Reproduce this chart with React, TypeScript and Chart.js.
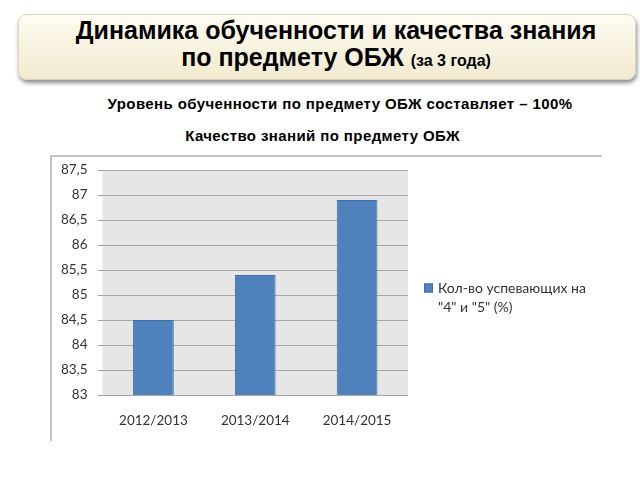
import { useEffect, useRef } from "react"
import { Chart, registerables } from "chart.js"

Chart.register(...registerables)

const categories = ["2012/2013", "2013/2014", "2014/2015"]
const qualityValues = [84.5, 85.4, 86.9]
const seriesLabel = 'Кол-во успевающих на "4" и "5" (%)'
const legendLines = ["Кол-во успевающих на", '"4" и "5" (%)']
const yMin = 83
const yMax = 87.5
const yStep = 0.5

const BAR_COLOR = "#4f81bd"
const TEXT_COLOR = "#333333"
const FONT = "Lato, 'Open Sans', sans-serif"

const plotBackground = {
  id: "plotBackground",
  beforeDraw(chart: Chart) {
    const { ctx, chartArea } = chart
    ctx.save()
    ctx.fillStyle = "#e6e6e6"
    ctx.fillRect(chartArea.left, chartArea.top, chartArea.right - chartArea.left, chartArea.bottom - chartArea.top)
    ctx.restore()
  },
}

// legend sits to the right of the plot, wrapped on two lines
const sideLegend = {
  id: "sideLegend",
  afterDraw(chart: Chart) {
    const { ctx, chartArea } = chart
    const ds = chart.data.datasets[0]
    const x = chartArea.right + 16
    const y = chartArea.top + 118
    ctx.save()
    ctx.fillStyle = ds.backgroundColor as string
    ctx.strokeStyle = "#3f6fa8"
    ctx.lineWidth = 1
    ctx.fillRect(x, y - 4.5, 9, 9)
    ctx.strokeRect(x + 0.5, y - 4, 8, 8)
    ctx.fillStyle = TEXT_COLOR
    ctx.font = `14px ${FONT}`
    ctx.textBaseline = "middle"
    legendLines.forEach((line, i) => {
      ctx.fillText(line, x + 14, y + i * 19)
    })
    ctx.restore()
  },
}

function QualityChart() {
  const chartRef = useRef<HTMLCanvasElement>(null)
  const chartInstance = useRef<Chart | null>(null)

  useEffect(() => {
    if (!chartRef.current) return
    const ctx = chartRef.current.getContext("2d")
    if (!ctx) return
    if (chartInstance.current) chartInstance.current.destroy()

    chartInstance.current = new Chart(ctx, {
      type: "bar",
      data: {
        labels: categories,
        datasets: [
          {
            label: seriesLabel,
            data: qualityValues,
            backgroundColor: BAR_COLOR,
            borderColor: "#3f6fa8",
            borderWidth: 1,
            barPercentage: 0.4,
            categoryPercentage: 1,
          },
        ],
      },
      options: {
        responsive: false,
        maintainAspectRatio: false,
        animation: false,
        layout: {
          padding: { left: 0, right: 232, top: 14, bottom: 11 },
        },
        scales: {
          y: {
            min: yMin,
            max: yMax,
            border: { display: false },
            grid: { color: "#a6a6a6", drawTicks: true, tickLength: 5 },
            ticks: {
              stepSize: yStep,
              padding: 10,
              color: TEXT_COLOR,
              font: { family: FONT, size: 13.5 },
              callback: (v) => String(v).replace(".", ","),
            },
            afterFit: (s) => {
              s.width = 52.5
              s.paddingTop = 0
              s.paddingBottom = 0
            },
          },
          x: {
            border: { display: false },
            grid: { display: false, drawTicks: false },
            ticks: {
              padding: 18,
              color: TEXT_COLOR,
              font: { family: FONT, size: 13.5 },
            },
            afterFit: (s) => {
              s.height = 40
            },
          },
        },
        plugins: {
          legend: { display: false },
          tooltip: { enabled: false },
        },
      },
      plugins: [plotBackground, sideLegend],
    })

    return () => {
      if (chartInstance.current) {
        chartInstance.current.destroy()
        chartInstance.current = null
      }
    }
  }, [])

  return <canvas ref={chartRef} width={590} height={290} style={{ width: 590, height: 290 }} />
}

export default function App() {
  const headFont = "'Liberation Sans', Arial, sans-serif"
  return (
    <div style={{ position: "absolute", left: 0, top: 0, width: 640, height: 480, background: "#fff", overflow: "hidden" }}>
      <div
        style={{
          position: "absolute",
          left: 18,
          top: 14,
          width: 616,
          height: 64,
          borderRadius: 9,
          background: "linear-gradient(to bottom, #fefcf1, #f2ead0)",
          border: "1px solid #ddd6bc",
          boxShadow: "1px 3px 4px rgba(0,0,0,0.45)",
        }}
      />
      <div
        style={{
          position: "absolute",
          left: 0,
          top: 17,
          width: 672,
          textAlign: "center",
          fontFamily: headFont,
          fontWeight: "bold",
          fontSize: 25,
          lineHeight: "27px",
          color: "#000",
        }}
      >
        Динамика обученности и качества знания
        <br />
        по предмету ОБЖ <span style={{ fontSize: 16 }}>(за 3 года)</span>
      </div>
      <div
        style={{
          position: "absolute",
          left: 0,
          top: 95,
          width: 680,
          textAlign: "center",
          fontFamily: headFont,
          fontWeight: "bold",
          fontSize: 15,
          letterSpacing: 0.4,
          lineHeight: "17px",
          color: "#000",
        }}
      >
        Уровень обученности по предмету ОБЖ составляет – 100%
      </div>
      <div
        style={{
          position: "absolute",
          left: 0,
          top: 127,
          width: 645,
          textAlign: "center",
          fontFamily: headFont,
          fontWeight: "bold",
          fontSize: 15,
          letterSpacing: 0.4,
          lineHeight: "17px",
          color: "#000",
        }}
      >
        Качество знаний по предмету ОБЖ
      </div>
      <div
        style={{
          position: "absolute",
          left: 50,
          top: 155,
          width: 550,
          height: 284,
          borderTop: "2px solid #c4c4c4",
          borderLeft: "2px solid #c4c4c4",
        }}
      />
      <div style={{ position: "absolute", left: 50, top: 156 }}>
        <QualityChart />
      </div>
    </div>
  )
}
